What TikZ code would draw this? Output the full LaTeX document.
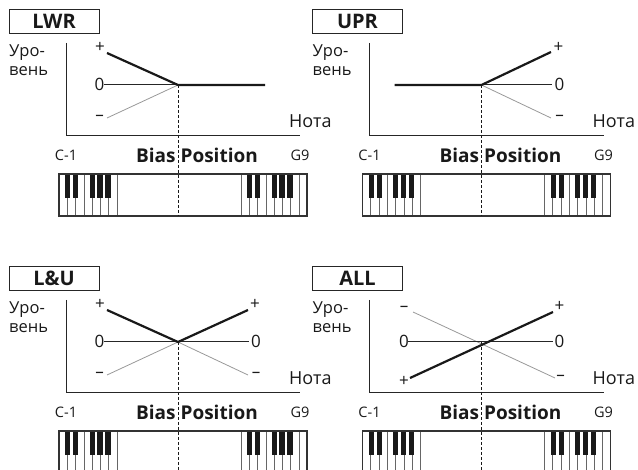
\documentclass[tikz,border=0pt]{standalone}
\usepackage{fontspec}
\setmainfont{Open Sans}
\tikzset{
 titlebox/.style={draw=black!85, line width=0.9pt, minimum width=90pt, minimum height=24pt, inner sep=0pt, text=black!90, font=\bfseries\fontsize{20}{20}\selectfont},
 ylab/.style={anchor=base west, inner sep=0pt, text=black!90, font=\fontsize{16.5}{16.5}\selectfont},
 notelab/.style={anchor=base west, inner sep=0pt, text=black!90, font=\fontsize{18}{18}\selectfont},
 endlab/.style={anchor=base, inner sep=0pt, text=black!90, font=\fontsize{14.5}{14.5}\selectfont},
 biaslab/.style={anchor=base, inner sep=0pt, text=black!90, font=\bfseries\fontsize{19}{19}\selectfont},
 lvl/.style={inner sep=0pt, text=black!90, font=\fontsize{17}{17}\selectfont},
 axisline/.style={line width=1pt, black!85},
 posline/.style={line width=2.2pt, black!90},
 zeroline/.style={line width=1pt, black!85},
 negline/.style={line width=0.8pt, black!40},
 biasline/.style={line width=0.9pt, black!90, dash pattern=on 3pt off 2pt},
 keyline/.style={line width=1.1pt, black!80},
 keysep/.style={line width=0.8pt, black!60},
 blackkey/.style={fill=black!90},
}
\newcommand\pianokeys[2]{%
 \fill[white] (#1,#2) rectangle ++(248,42);
 \foreach \i in {1,...,7} \draw[keysep] (#1+\i*8.3,#2) -- ++(0,42);
 \foreach \i in {0,...,7} \draw[keysep] (#1+182+\i*8.3,#2) -- ++(0,42);
 \foreach \o in {0,182} {
   \foreach \c in {1.05,2.0,4.0,4.95,5.9}
     \fill[blackkey] (#1+\o+\c*8.3-2.6,#2) rectangle ++(5.2,24);
 }
 \draw[keyline] (#1,#2) rectangle ++(248,42);
}
\newcommand\panelframe[2]{%
 \node[titlebox] (title#1) at (54,21) {#2};
 \node[ylab] (yA#1) at (9,57) {Уро-};
 \node[ylab] (yB#1) at (9,76) {вень};
 \coordinate (ax0#1) at (66,136);
 \coordinate (axy#1) at (66,43);
 \coordinate (axx#1) at (300,136);
 \draw[axisline] (axy#1) -- (ax0#1) -- (axx#1);
 \node[notelab] (note#1) at (289,128) {Нота};
 \node[endlab] (lo#1) at (66,161) {C-1};
 \node[endlab] (hi#1) at (300,161) {G9};
 \node[biaslab] (bias#1) at (197,162.5) {Bias Position};
 \pianokeys{59}{174}
 \coordinate (c#1) at (178,85);
 \coordinate (kb#1) at (178,216);
}
\begin{document}
\begin{tikzpicture}[x=1pt,y=-1pt]
\useasboundingbox (0,0) rectangle (638,470);
% ---------------- LWR
\begin{scope}
 \panelframe{1}{LWR}
 \node[lvl] (p1) at (100,47.5) {+};
 \node[lvl] (z1) at (99.5,84) {0};
 \node[lvl] (m1) at (99.5,118) {--};
 \coordinate (pl1) at (107,53);
 \coordinate (zl1) at (104,85);
 \coordinate (ml1) at (107,118);
 \coordinate (fr1) at (265,85);
 \draw[negline] (ml1) -- (c1);
 \draw[zeroline] (zl1) -- (c1);
 \draw[posline] (pl1) -- (c1) -- (fr1);
 \draw[biasline] (c1) -- (kb1);
\end{scope}
% ---------------- UPR
\begin{scope}[shift={(303.5,0)}]
 \panelframe{2}{UPR}
 \node[lvl] (p2) at (255,47) {+};
 \node[lvl] (z2) at (256,84) {0};
 \node[lvl] (m2) at (256,118) {--};
 \coordinate (pr2) at (247.5,52);
 \coordinate (zr2) at (248,85);
 \coordinate (mr2) at (247.5,118);
 \coordinate (fl2) at (91,85);
 \draw[negline] (c2) -- (mr2);
 \draw[zeroline] (c2) -- (zr2);
 \draw[posline] (fl2) -- (c2) -- (pr2);
 \draw[biasline] (c2) -- (kb2);
\end{scope}
% ---------------- L&U
\begin{scope}[shift={(0,257)}]
 \panelframe{3}{L\&U}
 \node[lvl] (p3) at (100,47.5) {+};
 \node[lvl] (z3) at (99.5,84) {0};
 \node[lvl] (m3) at (99.5,118) {--};
 \node[lvl] (p3r) at (255,47) {+};
 \node[lvl] (z3r) at (256,84) {0};
 \node[lvl] (m3r) at (256,118) {--};
 \coordinate (pl3) at (107,53);
 \coordinate (zl3) at (104,85);
 \coordinate (ml3) at (107,118);
 \coordinate (pr3) at (248,53);
 \coordinate (zr3) at (249,85);
 \coordinate (mr3) at (248,118);
 \draw[negline] (ml3) -- (c3) -- (mr3);
 \draw[zeroline] (zl3) -- (zr3);
 \draw[posline] (pl3) -- (c3) -- (pr3);
 \draw[biasline] (c3) -- (kb3);
\end{scope}
% ---------------- ALL
\begin{scope}[shift={(303.5,257)}]
 \panelframe{4}{ALL}
 \node[lvl] (m4) at (100.5,52) {--};
 \node[lvl] (z4) at (100.5,84) {0};
 \node[lvl] (p4) at (100.5,124) {+};
 \node[lvl] (p4r) at (256,49) {+};
 \node[lvl] (z4r) at (256,84) {0};
 \node[lvl] (m4r) at (257,121) {--};
 \coordinate (ml4) at (109.5,55);
 \coordinate (mr4) at (251.5,121);
 \coordinate (zl4) at (104.5,85);
 \coordinate (zr4) at (249.5,85);
 \coordinate (pl4) at (106.5,121);
 \coordinate (pr4) at (249.5,55);
 \draw[negline] (ml4) -- (mr4);
 \draw[zeroline] (zl4) -- (zr4);
 \draw[posline] (pl4) -- (pr4);
 \draw[biasline] (c4) -- (kb4);
\end{scope}
\end{tikzpicture}
\end{document}
